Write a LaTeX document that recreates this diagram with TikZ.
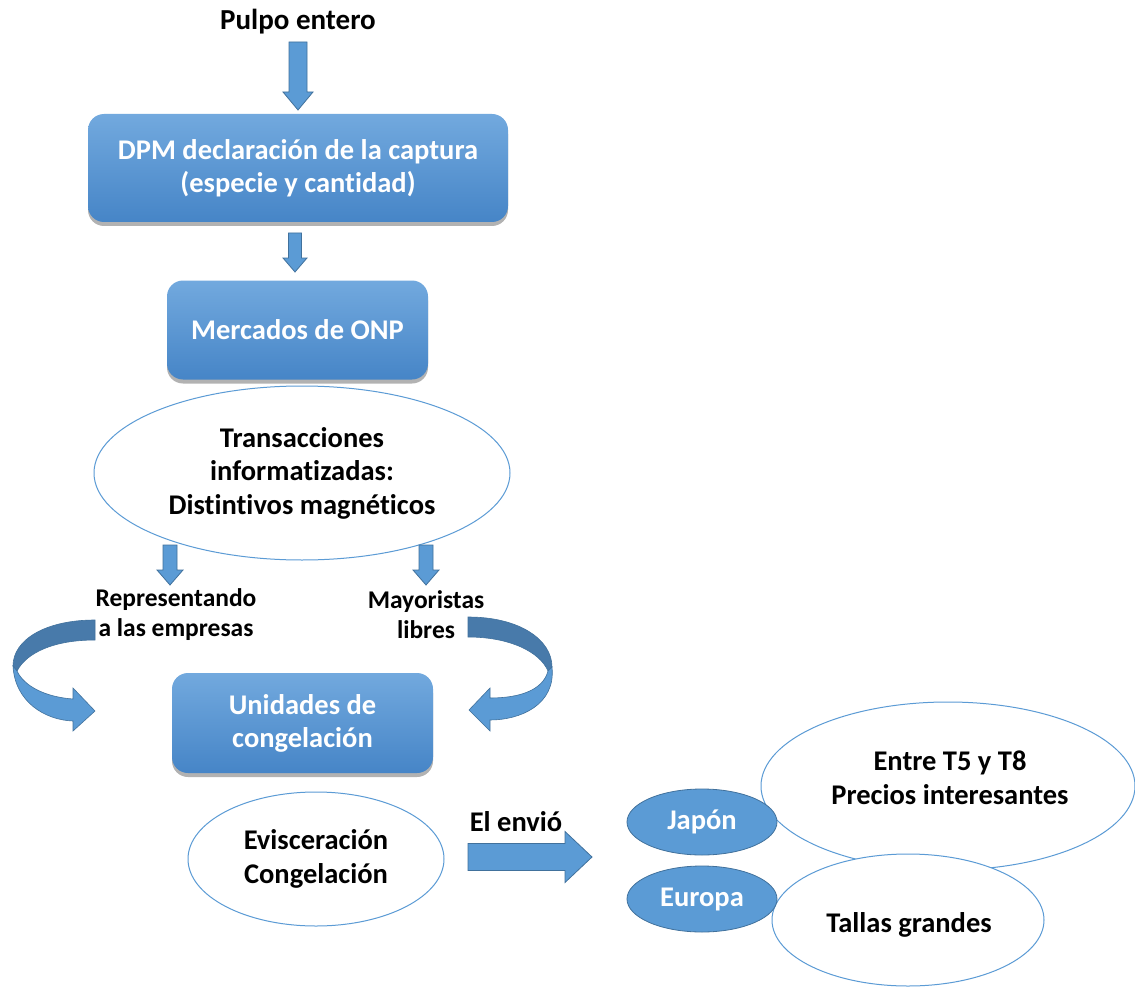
\documentclass[tikz,border=0pt]{standalone}
\usepackage{fontspec}
\setmainfont[Ligatures={NoCommon}]{Carlito}
\usetikzlibrary{shapes.geometric,shadows,calc}
\definecolor{boxtop}{RGB}{114,169,222}
\definecolor{boxbot}{RGB}{70,133,199}
\definecolor{arrfill}{RGB}{91,155,213}
\definecolor{arrline}{RGB}{65,113,156}
\definecolor{ribdark}{RGB}{72,122,170}
\definecolor{ellline}{RGB}{91,155,213}
\newcommand\vbarrow[5]{\path[arrowshape] let \p1=(#1), \p2=(#2) in
  (\x1-#3pt,\y1) -- (\x1+#3pt,\y1) -- (\x1+#3pt,\y2+#5pt) -- (\x1+#4pt,\y2+#5pt)
  -- (\x1,\y2) -- (\x1-#4pt,\y2+#5pt) -- (\x1-#3pt,\y2+#5pt) -- cycle;}
\newcommand\hbarrow[5]{\path[arrowshape] let \p1=(#1), \p2=(#2) in
  (\x1,\y1+#3pt) -- (\x2-#5pt,\y1+#3pt) -- (\x2-#5pt,\y1+#4pt) -- (\x2,\y1)
  -- (\x2-#5pt,\y1-#4pt) -- (\x2-#5pt,\y1-#3pt) -- (\x1,\y1-#3pt) -- cycle;}
\begin{document}
\begin{tikzpicture}[x=1pt,y=-1pt,
  arrowshape/.style={fill=arrfill,draw=arrline,line width=0.8pt},
  box/.style={rounded corners=16pt,top color=boxtop,bottom color=boxbot,draw=none,
    text=white,font=\fontsize{28.5}{33}\selectfont\bfseries,align=center,inner sep=0pt,
    drop shadow={shadow xshift=0pt,shadow yshift=-4pt,opacity=0.3,fill=black}},
  oval/.style={ellipse,draw=ellline,line width=1pt,fill=white,inner sep=0pt,
    align=center,font=\fontsize{28.5}{33.5}\selectfont\bfseries},
  country/.style={ellipse,draw=arrline,line width=0.8pt,fill=arrfill,inner sep=0pt,
    text=white,font=\fontsize{28.5}{33}\selectfont\bfseries,minimum width=150,minimum height=66},
  lbl/.style={align=center,font=\fontsize{25.5}{30}\selectfont\bfseries,inner sep=0pt},
  ovaltext/.style={align=center,font=\fontsize{28.5}{34}\selectfont\bfseries,inner sep=0pt}]
\useasboundingbox[fill=white] (0,0) rectangle (1135,987);

\node[lbl,font=\fontsize{29}{30}\selectfont\bfseries] (pulpo) at (298,22) {Pulpo entero};
\node[box,minimum width=420,minimum height=108] (dpm) at (298,168) {DPM declaración de la captura\\(especie y cantidad)};
\node[box,minimum width=261,minimum height=99] (merc) at (297.5,330) {Mercados de ONP};
\node[oval,minimum width=416,minimum height=174] (trans) at (302,473) {Transacciones\\informatizadas:\\Distintivos magnéticos};
\node[lbl] (repr) at (176,615) {Representando\\a las empresas};
\node[lbl] (mayo) at (426,615) {Mayoristas\\libres};
\node[box,minimum width=261,minimum height=100] (unid) at (302.5,723) {Unidades de\\congelación};
\node[oval,minimum width=256,minimum height=134] (evis) at (316,859) {Evisceración\\Congelación};
\node[lbl,font=\fontsize{28.5}{30}\selectfont\bfseries] (envio) at (516,822) {El envió};
\node[oval,minimum width=374,minimum height=168] (entre) at (948,786) {};
\node[ovaltext] (entretxt) at (950,778) {Entre T5 y T8\\Precios interesantes};
\node[oval,minimum width=272,minimum height=132] (tallas) at (908,920) {};
\node[ovaltext] (tallastxt) at (909,925) {Tallas grandes};
\node[country] (japon) at (702,822) {Japón};
\node[country] (europa) at (702,899) {Europa};

% block arrows
\coordinate (a1s) at (298,42);  \coordinate (a1e) at (298,110);
\coordinate (a2s) at (295,233); \coordinate (a2e) at (295,272);
\coordinate (a3s) at (170,545); \coordinate (a3e) at (170,585);
\coordinate (a4s) at (426,545); \coordinate (a4e) at (426,585);
\coordinate (a5s) at (468,857); \coordinate (a5e) at (592,857);
\vbarrow{a1s}{a1e}{9}{15}{18}
\vbarrow{a2s}{a2e}{6.5}{12}{14}
\vbarrow{a3s}{a3e}{7}{13}{15}
\vbarrow{a4s}{a4e}{7}{13}{15}
\hbarrow{a5s}{a5e}{13.5}{25.5}{27}

% curved ribbon arrows
\path[fill=ribdark,draw=arrline,line width=0.6pt]
  (95,620) .. controls (45,620) and (13,640) .. (13,666)
  -- (17,671) .. controls (27,652) and (55,640) .. (95,640) -- cycle;
\path[arrowshape,line width=0.6pt]
  (13,666) .. controls (15,702) and (45,720) .. (73,721)
  -- (73,731) -- (95,711) -- (73,688) -- (73,699)
  .. controls (45,697) and (24,686) .. (17,671) -- cycle;
\path[fill=ribdark,draw=arrline,line width=0.6pt]
  (468,617) .. controls (520,617) and (552,640) .. (552,667)
  -- (548,671) .. controls (540,652) and (510,637) .. (468,637) -- cycle;
\path[arrowshape,line width=0.6pt]
  (552,667) .. controls (556,705) and (520,720) .. (490,720)
  -- (490,731) -- (469,710) -- (490,688) -- (490,698)
  .. controls (520,698) and (543,690) .. (548,671) -- cycle;
\end{tikzpicture}
\end{document}
